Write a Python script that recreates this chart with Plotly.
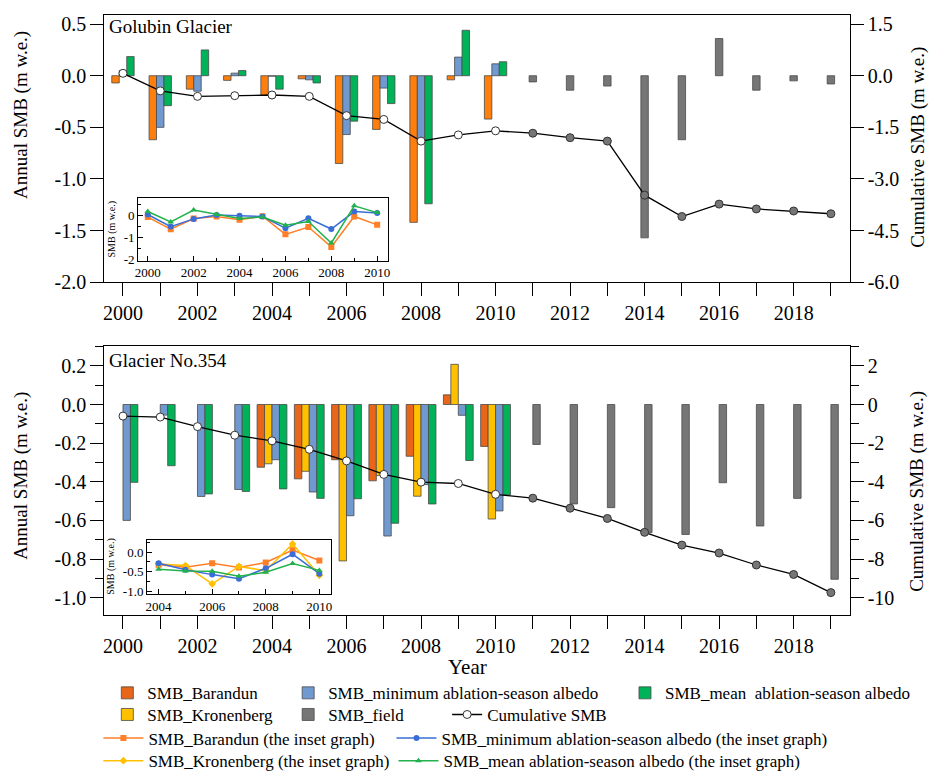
import plotly.graph_objects as go

# ---------------- data ----------------
years = list(range(2000, 2020))
years_model = list(range(2000, 2011))
years_field = list(range(2011, 2020))
years_kron = list(range(2004, 2011))

# Golubin Glacier (annual SMB, m w.e.)
gol_barandun = [-0.07, -0.62, -0.13, -0.045, -0.19, -0.03, -0.85, -0.52, -1.42, -0.04, -0.42]
gol_minalb = [0.05, -0.50, -0.15, 0.025, -0.005, -0.04, -0.57, -0.12, -0.61, 0.18, 0.115]
gol_meanalb = [0.185, -0.29, 0.25, 0.05, -0.13, -0.07, -0.44, -0.27, -1.24, 0.44, 0.135]
gol_field = [-0.06, -0.14, -0.10, -1.57, -0.62, 0.36, -0.14, -0.05, -0.08]
gol_cum = [0.07, -0.44, -0.60, -0.58, -0.56, -0.60, -1.16, -1.27, -1.90, -1.72, -1.60,
           -1.67, -1.80, -1.90, -3.47, -4.09, -3.73, -3.87, -3.93, -4.01]

# Glacier No.354 (annual SMB, m w.e.)
n354_barandun = [-0.325, -0.385, -0.286, -0.395, -0.268, 0.05, -0.217]      # 2004-2010
n354_kron = [-0.307, -0.346, -0.81, -0.368, -0.475, 0.208, -0.593]          # 2004-2010
n354_minalb = [-0.60, -0.055, -0.476, -0.44, -0.286, -0.453, -0.576, -0.681, -0.415, -0.056, -0.551]
n354_meanalb = [-0.403, -0.317, -0.463, -0.45, -0.437, -0.486, -0.488, -0.615, -0.515, -0.29, -0.468]
n354_field = [-0.207, -0.515, -0.534, -0.664, -0.673, -0.405, -0.629, -0.486, -0.905]
n354_cum = [-0.60, -0.65, -1.145, -1.59, -1.88, -2.32, -2.92, -3.62, -4.02, -4.09, -4.65,
            -4.85, -5.37, -5.90, -6.62, -7.28, -7.69, -8.31, -8.80, -9.74]

# tick labels
main_xticks = list(range(2000, 2020, 2))
top_yticks = [-2.0, -1.5, -1.0, -0.5, 0.0, 0.5]
top_y2ticks = [-6.0, -4.5, -3.0, -1.5, 0.0, 1.5]
bot_yticks = [-1.0, -0.8, -0.6, -0.4, -0.2, 0.0, 0.2]
bot_y2ticks = [-10, -8, -6, -4, -2, 0, 2]
ins1_xticks = list(range(2000, 2011, 2))
ins1_yticks = [-2, -1, 0]
ins2_xticks = list(range(2004, 2011, 2))
ins2_yticks = [-1.0, -0.5, 0.0]

# ---------------- styles ----------------
W, H = 934, 781
SERIF = "Liberation Serif"
C_OR_TOP = "#FF7F0E"
C_OR = "#E8651A"
C_BLUE = "#7099CF"
C_GREEN = "#00B358"
C_YEL = "#FFC000"
C_GRAY = "#767676"
C_EDGE = "#4a4a4a"
L_OR = "#FF7F27"
L_BLUE = "#3A6ED6"
L_YEL = "#FFC000"
L_GREEN = "#22B14C"


def lab(v, fmt):
    return format(v, fmt)


fig = go.Figure()


def add_bar(x, y, color, offset, xa, ya, name, legend=None):
    fig.add_trace(go.Bar(
        x=x, y=y, width=0.2, offset=offset, name=name,
        marker=dict(color=color, line=dict(color=C_EDGE, width=0.8)),
        xaxis=xa, yaxis=ya, showlegend=legend is not None,
        legend=legend if legend else "legend"))


# top panel bars
add_bar(years_model, gol_barandun, C_OR_TOP, -0.3, "x", "y", "SMB_Barandun")
add_bar(years_model, gol_minalb, C_BLUE, -0.1, "x", "y", "SMB_minimum ablation-season albedo")
add_bar(years_model, gol_meanalb, C_GREEN, 0.1, "x", "y", "SMB_mean ablation-season albedo")
add_bar(years_field, gol_field, C_GRAY, -0.1, "x", "y", "SMB_field")

# bottom panel bars
add_bar(years_kron, n354_barandun, C_OR, -0.4, "x2", "y3", "SMB_Barandun", "legend")
add_bar(years_kron, n354_kron, C_YEL, -0.2, "x2", "y3", "SMB_Kronenberg", "legend4")
add_bar(years_model, n354_minalb, C_BLUE, 0.0, "x2", "y3",
        "SMB_minimum ablation-season albedo", "legend2")
add_bar(years_model, n354_meanalb, C_GREEN, 0.2, "x2", "y3",
        "SMB_mean  ablation-season albedo", "legend3")
add_bar(years_field, n354_field, C_GRAY, 0.0, "x2", "y3", "SMB_field", "legend5")


def cum_colors():
    return ["white" if y in years_model else C_GRAY for y in years]


fig.add_trace(go.Scatter(
    x=years, y=gol_cum, mode="lines+markers", xaxis="x", yaxis="y2",
    line=dict(color="black", width=1.3),
    marker=dict(size=8, color=cum_colors(), line=dict(color="#333333", width=1)),
    name="Cumulative SMB", showlegend=True, legend="legend6"))
fig.add_trace(go.Scatter(
    x=years, y=n354_cum, mode="lines+markers", xaxis="x2", yaxis="y4",
    line=dict(color="black", width=1.3),
    marker=dict(size=8, color=cum_colors(), line=dict(color="#333333", width=1)),
    name="Cumulative SMB", showlegend=False))


def add_line(x, y, color, symbol, xa, ya, name, legend=None):
    fig.add_trace(go.Scatter(
        x=x, y=y, mode="lines+markers", xaxis=xa, yaxis=ya, name=name,
        line=dict(color=color, width=1.5),
        marker=dict(color=color, symbol=symbol, size=6),
        showlegend=legend is not None, legend=legend if legend else "legend"))


# top inset
add_line(years_model, gol_barandun, L_OR, "square", "x3", "y5", "a")
add_line(years_model, gol_minalb, L_BLUE, "circle", "x3", "y5", "b")
add_line(years_model, gol_meanalb, L_GREEN, "triangle-up", "x3", "y5", "c")
# bottom inset
add_line(years_kron, n354_barandun, L_OR, "square", "x4", "y6",
         "SMB_Barandun (the inset graph)", "legend7")
add_line(years_kron, n354_kron, L_YEL, "diamond", "x4", "y6",
         "SMB_Kronenberg (the inset graph)", "legend9")
add_line(years_model[4:], n354_minalb[4:], L_BLUE, "circle", "x4", "y6",
         "SMB_minimum ablation-season albedo (the inset graph)", "legend8")
add_line(years_model[4:], n354_meanalb[4:], L_GREEN, "triangle-up", "x4", "y6",
         "SMB_mean ablation-season albedo (the inset graph)", "legend10")

# ---------------- layout ----------------
main_dom_x = [102 / W, 852 / W]
top_dom_y = [1 - 285 / H, 1 - 13 / H]
bot_dom_y = [1 - 623 / H, 1 - 350 / H]
xr = [1999.5, 2019.5]
top_yr = [-2.0, 0.59]
top_y2r = [v * 3 for v in top_yr]
bot_yr = [-1.088, 0.302]
bot_y2r = [v * 10 for v in bot_yr]

tickfont = dict(family=SERIF, size=20, color="black")
axcommon = dict(showline=True, linecolor="black", linewidth=1.2, showgrid=False,
                zeroline=False, ticks="outside", ticklen=13, tickcolor="black",
                tickwidth=1.2, tickfont=tickfont)


def main_x(anchor):
    return dict(axcommon, domain=main_dom_x, anchor=anchor, range=xr, mirror=True,
                tickvals=main_xticks, ticktext=[str(v) for v in main_xticks],
                minor=dict(dtick=1, tick0=2000, ticks="outside", ticklen=13,
                           tickcolor="black", tickwidth=1.2))


def zero_pos(dom, r):
    return dom[0] + (0 - r[0]) / (r[1] - r[0]) * (dom[1] - dom[0])


def zero_x(over, dom, r):
    return dict(overlaying=over, anchor="free", position=zero_pos(dom, r), range=xr,
                showline=True, linecolor="black", linewidth=1.2, showgrid=False,
                zeroline=False, ticks="outside", ticklen=13, tickcolor="black",
                tickwidth=1.2, tickvals=years, showticklabels=False)


inset_font = dict(family=SERIF, size=13, color="black")
inset_common = dict(showline=True, linecolor="black", linewidth=1, mirror=True,
                    showgrid=False, zeroline=False, ticks="inside", ticklen=5,
                    tickcolor="black", tickfont=inset_font)

fig.update_layout(
    width=W, height=H, margin=dict(l=0, r=0, t=0, b=0),
    paper_bgcolor="white", plot_bgcolor="white", barmode="overlay",
    font=dict(family=SERIF, color="black"),
    xaxis=main_x("y"),
    yaxis=dict(axcommon, domain=top_dom_y, anchor="x", range=top_yr,
               tickvals=top_yticks, ticktext=[lab(v, ".1f") for v in top_yticks]),
    yaxis2=dict(axcommon, overlaying="y", side="right", anchor="x", range=top_y2r,
                tickvals=top_y2ticks, ticktext=[lab(v, ".1f") for v in top_y2ticks]),
    xaxis2=main_x("y3"),
    yaxis3=dict(axcommon, domain=bot_dom_y, anchor="x2", range=bot_yr,
                tickvals=bot_yticks, ticktext=[lab(v, ".1f") for v in bot_yticks],
                minor=dict(dtick=0.1, tick0=0, ticks="outside", ticklen=8,
                           tickcolor="black", tickwidth=1.2)),
    yaxis4=dict(axcommon, overlaying="y3", side="right", anchor="x2", range=bot_y2r,
                tickvals=bot_y2ticks, ticktext=[lab(v, "d") for v in bot_y2ticks],
                minor=dict(dtick=1, tick0=0, ticks="outside", ticklen=8,
                           tickcolor="black", tickwidth=1.2)),
    xaxis3=dict(inset_common, domain=[136 / W, 387 / W], anchor="y5",
                range=[1999.58, 2010.45], tickvals=ins1_xticks,
                ticktext=[str(v) for v in ins1_xticks],
                minor=dict(dtick=1, tick0=2000, ticks="inside", ticklen=3, tickcolor="black")),
    yaxis5=dict(inset_common, domain=[1 - 263 / H, 1 - 199 / H], anchor="x3",
                range=[-2.04, 0.81], tickvals=ins1_yticks,
                ticktext=[lab(v, "d") for v in ins1_yticks],
                minor=dict(dtick=0.5, tick0=0, ticks="inside", ticklen=3, tickcolor="black")),
    xaxis4=dict(inset_common, domain=[145 / W, 330 / W], anchor="y6",
                range=[2003.57, 2010.43], tickvals=ins2_xticks,
                ticktext=[str(v) for v in ins2_xticks],
                minor=dict(dtick=1, tick0=2004, ticks="inside", ticklen=3, tickcolor="black")),
    yaxis6=dict(inset_common, domain=[1 - 602 / H, 1 - 547 / H], anchor="x4",
                range=[-1.07, 0.31], tickvals=ins2_yticks,
                ticktext=[lab(v, ".1f") for v in ins2_yticks],
                minor=dict(dtick=0.25, tick0=0, ticks="inside", ticklen=3, tickcolor="black")),
    xaxis5=zero_x("x", top_dom_y, top_yr),
    xaxis6=zero_x("x2", bot_dom_y, bot_yr),
)

# legends (one per entry, laid out like the reference)
leg_font = dict(family=SERIF, size=17, color="black")
leg_pos = {
    "legend": (105, 703, 30), "legend2": (287, 703, 30), "legend3": (626, 703, 30),
    "legend4": (105, 725, 30), "legend5": (287, 725, 30), "legend6": (447, 725, 30),
    "legend7": (96, 749, 40), "legend8": (391, 749, 40),
    "legend9": (96, 772, 40), "legend10": (393, 772, 40),
}
for key, (px, py, iw) in leg_pos.items():
    fig.update_layout({key: dict(x=px / W, y=1 - py / H, xanchor="left", yanchor="middle",
                                 bgcolor="rgba(0,0,0,0)", font=leg_font, itemwidth=iw,
                                 borderwidth=0, tracegroupgap=0)})

ann = []


def add_text(text, px, py, size, angle=0, xanchor="left"):
    ann.append(dict(text=text, x=px / W, y=1 - py / H, xref="paper", yref="paper",
                    xanchor=xanchor, yanchor="middle", showarrow=False, textangle=angle,
                    font=dict(family=SERIF, size=size, color="black")))


add_text("Golubin Glacier", 105, 25, 19)
add_text("Glacier No.354", 105, 365, 19)
add_text("Annual SMB (m w.e.)", 18, 115, 19, -90, "center")
add_text("Annual SMB (m w.e.)", 18, 482, 19, -90, "center")
add_text("Cumulative SMB (m w.e.)", 920, 148, 19, -90, "center")
add_text("Cumulative SMB (m w.e.)", 920, 498, 19, -90, "center")
add_text("Year", 467, 676, 21, 0, "center")
add_text("SMB (m w.e.)", 110, 231, 10, -90, "center")
add_text("SMB (m w.e.)", 109, 574, 10, -90, "center")
fig.update_layout(annotations=ann)

fig.write_html("out.html", config={"displayModeBar": False},
               post_script="document.body.style.margin='0';")
